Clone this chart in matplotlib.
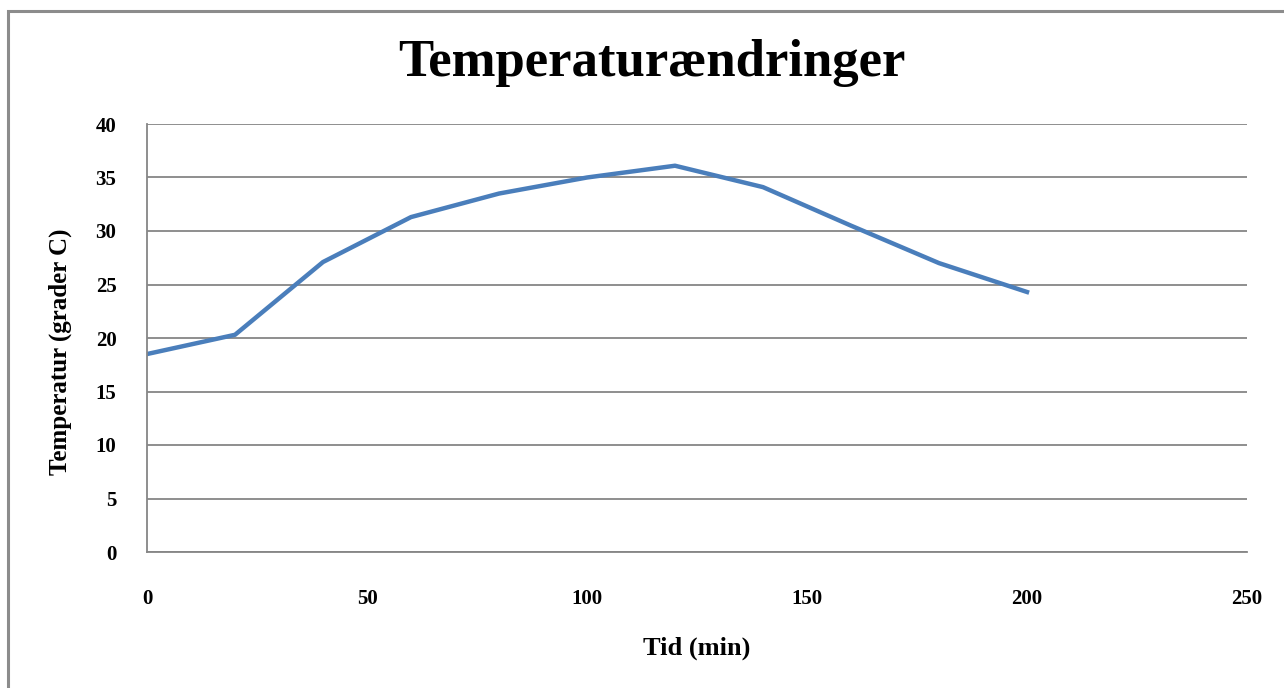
import matplotlib.pyplot as plt
from matplotlib.patches import Rectangle

# data
tid = [0, 20, 40, 60, 80, 100, 120, 140, 160, 180, 200]
temperatur = [18.5, 20.3, 27.1, 31.3, 33.5, 35.0, 36.1, 34.1, 30.5, 27.0, 24.3]
x_ticks = [0, 50, 100, 150, 200, 250]
y_ticks = [0, 5, 10, 15, 20, 25, 30, 35, 40]

plt.rcParams["font.family"] = ["Liberation Serif", "DejaVu Serif"]

fig = plt.figure(figsize=(12.84, 6.88), dpi=100)
W, H = 1284, 688

# outer chart frame (runs off right/bottom edge)
fig.patches.append(Rectangle((8 / W, -0.05), 1.1, 1 - 11 / H + 0.05,
                             transform=fig.transFigure, fill=False,
                             edgecolor="#8c8c8c", linewidth=2.2))

ax = fig.add_axes([147 / W, 1 - 552 / H, (1247 - 147) / W, (552 - 124) / H])
ax.plot(tid, temperatur, color="#4a7ebb", linewidth=3.2, solid_joinstyle="round")

ax.set_xlim(0, 250)
ax.set_ylim(0, 40)
ax.set_xticks(x_ticks)
ax.set_yticks(y_ticks)
ax.grid(axis="y", color="#868686", linewidth=1.3)
ax.set_axisbelow(True)
for s in ["top", "right"]:
    ax.spines[s].set_visible(False)
for s in ["left", "bottom"]:
    ax.spines[s].set_color("#868686")
    ax.spines[s].set_linewidth(1.3)
ax.tick_params(length=0, labelsize=15)
ax.tick_params(axis="x", pad=27)
ax.tick_params(axis="y", pad=22)
for lab in ax.get_xticklabels() + ax.get_yticklabels():
    lab.set_fontweight("bold")

fig.text(0.508, 1 - 63 / H, "Temperaturændringer", ha="center", va="center",
         fontsize=38, fontweight="bold")
fig.text(697 / W, 1 - 648 / H, "Tid (min)", ha="center", va="center",
         fontsize=19, fontweight="bold")
fig.text(60 / W, 1 - 352 / H, "Temperatur (grader C)", ha="center", va="center",
         rotation=90, fontsize=18, fontweight="bold")

fig.savefig("out.png", dpi=100, facecolor="white")
